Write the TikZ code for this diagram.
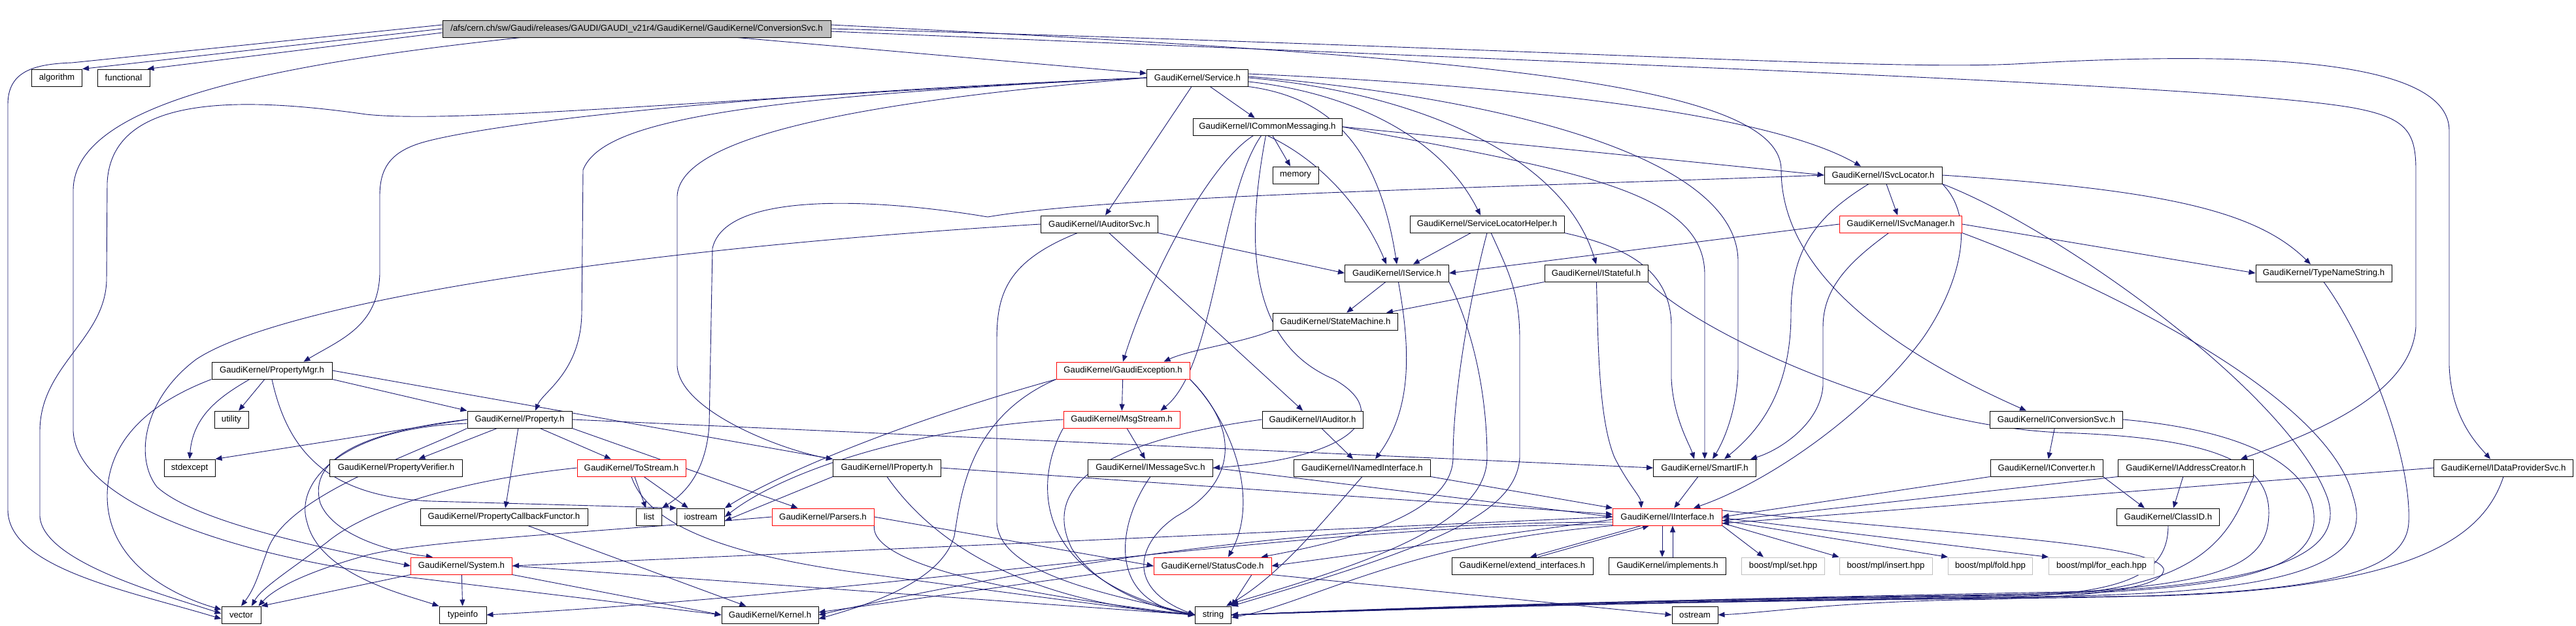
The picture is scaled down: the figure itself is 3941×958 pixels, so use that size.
\documentclass[tikz,border=0pt]{standalone}
\usepackage{fontspec}
\setmainfont{Liberation Sans}
\usetikzlibrary{arrows.meta}
\pgfdeclarelayer{edges}
\pgfsetlayers{edges,main}
\definecolor{depblue}{RGB}{25,25,112}
\definecolor{boxgray}{RGB}{191,191,191}

\begin{document}
\begin{tikzpicture}[
  x=0.5pt, y=-0.5pt,
  hdr/.style={draw=black, fill=white, line width=0.5pt, inner sep=0pt,
              minimum height=13pt, font=\fontsize{6.6}{8}\selectfont},
  hdrred/.style={hdr, draw=red},
  hdrsys/.style={hdr, draw=boxgray},
  hdrroot/.style={hdr, fill=boxgray},
  dep/.style={-{Triangle[length=5pt,width=4pt]}, draw=depblue, line width=0.45pt}
]
\useasboundingbox (0,0) rectangle (3941,958);

% ---------------------------------------------------------------
% Header files, one row per rank
% ---------------------------------------------------------------
\node[hdrroot, minimum width=297pt] (cs) at (974,44) {/afs/cern.ch/sw/Gaudi/releases/GAUDI/GAUDI\_v21r4/GaudiKernel/GaudiKernel/ConversionSvc.h};

\node[hdr, minimum width=38.5pt] (algorithm) at (87,119) {algorithm};
\node[hdr, minimum width=40pt] (functional) at (189,119) {functional};
\node[hdr, minimum width=77.5pt] (service) at (1832,119) {GaudiKernel/Service.h};

\node[hdr, minimum width=114pt] (commsg) at (1939,194) {GaudiKernel/ICommonMessaging.h};

\node[hdr, minimum width=35pt] (memory) at (1982,268) {memory};
\node[hdr, minimum width=90pt] (isvclocator) at (2881,268) {GaudiKernel/ISvcLocator.h};

\node[hdr, minimum width=89.5pt] (iauditorsvc) at (1682,343) {GaudiKernel/IAuditorSvc.h};
\node[hdr, minimum width=118pt] (svclochelper) at (2275,343) {GaudiKernel/ServiceLocatorHelper.h};
\node[hdrred, minimum width=93.5pt] (isvcmanager) at (2908,343) {GaudiKernel/ISvcManager.h};

\node[hdr, minimum width=79.5pt] (iservice) at (2137,418) {GaudiKernel/IService.h};
\node[hdr, minimum width=79pt] (istateful) at (2442,418) {GaudiKernel/IStateful.h};
\node[hdr, minimum width=104pt] (typename) at (3555,418) {GaudiKernel/TypeNameString.h};

\node[hdr, minimum width=95.5pt] (statemachine) at (2043,492) {GaudiKernel/StateMachine.h};

\node[hdr, minimum width=92pt] (propertymgr) at (416,567) {GaudiKernel/PropertyMgr.h};
\node[hdrred, minimum width=102pt] (gaudiexc) at (1718,567) {GaudiKernel/GaudiException.h};

\node[hdr, minimum width=26pt] (utility) at (354,642) {utility};
\node[hdr, minimum width=80pt] (property) at (795,642) {GaudiKernel/Property.h};
\node[hdrred, minimum width=89pt] (msgstream) at (1716,642) {GaudiKernel/MsgStream.h};
\node[hdr, minimum width=77pt] (iauditor) at (2008,642) {GaudiKernel/IAuditor.h};
\node[hdr, minimum width=101.5pt] (iconvsvc) at (3146,642) {GaudiKernel/IConversionSvc.h};

\node[hdr, minimum width=39pt] (stdexcept) at (290,716) {stdexcept};
\node[hdr, minimum width=101.5pt] (propverifier) at (606,716) {GaudiKernel/PropertyVerifier.h};
\node[hdrred, minimum width=83pt] (tostream) at (966,716) {GaudiKernel/ToStream.h};
\node[hdr, minimum width=82.5pt] (iproperty) at (1357,716) {GaudiKernel/IProperty.h};
\node[hdr, minimum width=95.5pt] (imsgsvc) at (1760,716) {GaudiKernel/IMessageSvc.h};
\node[hdr, minimum width=104.5pt] (inamedif) at (2084,716) {GaudiKernel/INamedInterface.h};
\node[hdr, minimum width=78.5pt] (smartif) at (2608,716) {GaudiKernel/SmartIF.h};
\node[hdr, minimum width=86pt] (iconverter) at (3131,716) {GaudiKernel/IConverter.h};
\node[hdr, minimum width=103.5pt] (iaddrcreator) at (3344,716) {GaudiKernel/IAddressCreator.h};
\node[hdr, minimum width=106.5pt] (idataprov) at (3830,716) {GaudiKernel/IDataProviderSvc.h};

\node[hdr, minimum width=128pt] (propcallback) at (771,791) {GaudiKernel/PropertyCallbackFunctor.h};
\node[hdr, minimum width=19.5pt] (list) at (993,791) {list};
\node[hdr, minimum width=36.5pt] (iostream) at (1072,791) {iostream};
\node[hdrred, minimum width=78pt] (parsers) at (1259,791) {GaudiKernel/Parsers.h};
\node[hdrred, minimum width=83.5pt] (iinterface) at (2551,791) {GaudiKernel/IInterface.h};
\node[hdr, minimum width=78.5pt] (classid) at (3317,791) {GaudiKernel/ClassID.h};

\node[hdrred, minimum width=77.5pt] (system) at (706,866) {GaudiKernel/System.h};
\node[hdrred, minimum width=90pt] (statuscode) at (1855,866) {GaudiKernel/StatusCode.h};
\node[hdr, minimum width=108pt] (extendif) at (2329,866) {GaudiKernel/extend\_interfaces.h};
\node[hdr, minimum width=89.5pt] (implements) at (2551,866) {GaudiKernel/implements.h};
\node[hdrsys, minimum width=63.5pt] (mplset) at (2728,866) {boost/mpl/set.hpp};
\node[hdrsys, minimum width=71pt] (mplinsert) at (2885,866) {boost/mpl/insert.hpp};
\node[hdrsys, minimum width=64.5pt] (mplfold) at (3045,866) {boost/mpl/fold.hpp};
\node[hdrsys, minimum width=80.5pt] (mplforeach) at (3215,866) {boost/mpl/for\_each.hpp};

\node[hdr, minimum width=30pt] (vector) at (369,941) {vector};
\node[hdr, minimum width=36pt] (typeinfo) at (708,941) {typeinfo};
\node[hdr, minimum width=74pt] (kernel) at (1178,941) {GaudiKernel/Kernel.h};
\node[hdr, minimum width=27.5pt] (string) at (1856,941) {string};
\node[hdr, minimum width=35pt] (ostream) at (2593,941) {ostream};

\begin{pgfonlayer}{edges}
% ---------------------------------------------------------------
% ConversionSvc.h
% ---------------------------------------------------------------
\draw[dep] (cs.west) -- (algorithm.north east);
\draw[dep] ([yshift=-3pt]cs.west) -- ([xshift=-2pt]functional.north east);
\draw[dep] ([yshift=3pt]cs.west) -- (110,96) .. controls (50,98) and (12,110) .. (12,160) -- (12,780)
           .. controls (12,870) and (200,905) .. ([yshift=-3pt]vector.west);
\draw[dep] ([xshift=60pt]cs.south west) .. controls (400,100) and (115,160) .. (112,290) -- (112,660)
           .. controls (118,780) and (400,860) .. (640,885) -- (kernel.west);
\draw[dep] (cs) -- (service);
\draw[dep] ([yshift=3pt]cs.east) .. controls (2200,85) and (2725,120) .. (2725,260)
           .. controls (2725,420) and (2900,540) .. ([xshift=-23pt]iconvsvc.north);
\draw[dep] (cs.east) .. controls (2400,75) and (2900,110) .. (3100,97)
           .. controls (3500,75) and (3747,100) .. (3747,200) -- (3747,560)
           .. controls (3750,640) and (3790,680) .. ([xshift=-10pt]idataprov.north);
\draw[dep] ([yshift=-2pt]cs.east) .. controls (2500,100) and (3400,130) .. (3600,165)
           .. controls (3680,180) and (3696,200) .. (3696,260) -- (3696,500)
           .. controls (3690,600) and (3550,660) .. ([xshift=42pt]iaddrcreator.north);

% ---------------------------------------------------------------
% Service.h
% ---------------------------------------------------------------
\draw[dep] (service) -- (commsg);
\draw[dep] (service) -- (iauditorsvc);
\draw[dep] ([yshift=-3pt]service.east) .. controls (2050,140) and (2200,200) .. ([xshift=-5pt]svclochelper.north);
\draw[dep] (service.south east) .. controls (2040,150) and (2110,230) .. (iservice.north);
\draw[dep] (service.east) .. controls (2150,140) and (2390,230) .. (istateful.north);
\draw[dep] ([yshift=3pt]service.east) .. controls (2300,130) and (2700,170) .. ([xshift=-17pt]isvclocator.north);
\draw[dep] ([yshift=1pt]service.east) .. controls (2300,150) and (2659,240) .. (2659,400) -- (2659,560)
           .. controls (2659,620) and (2640,670) .. ([xshift=6pt]smartif.north);
\draw[dep] (service.west) .. controls (1000,150) and (700,200) .. (640,220)
           .. controls (595,235) and (581,260) .. (581,300) -- (581,420)
           .. controls (578,500) and (520,520) .. ([xshift=-22pt]propertymgr.north east);
\draw[dep] (service.west) .. controls (1100,150) and (920,190) .. (892,260) -- (890,480)
           .. controls (888,570) and (830,600) .. ([xshift=12pt]property.north);
\draw[dep] (service.west) .. controls (1250,160) and (1040,220) .. (1036,300) -- (1036,560)
           .. controls (1040,630) and (1200,690) .. (iproperty.north west);
\draw[dep] (service.west) .. controls (1100,150) and (700,190) .. (560,175)
           .. controls (350,145) and (170,150) .. (164,280) -- (163,430)
           .. controls (160,520) and (61,560) .. (61,660) -- (61,790)
           .. controls (65,860) and (250,910) .. ([yshift=1pt]vector.west);

% ---------------------------------------------------------------
% ICommonMessaging.h
% ---------------------------------------------------------------
\draw[dep] (commsg) -- (memory);
\draw[dep] (commsg.south) .. controls (2030,250) and (2090,330) .. ([xshift=-8pt]iservice.north);
\draw[dep] (commsg.east) -- (isvclocator.west);
\draw[dep] (commsg) .. controls (1850,250) and (1760,420) .. (gaudiexc.north);
\draw[dep] (commsg) .. controls (1865,300) and (1860,560) .. ([xshift=-15pt]msgstream.north east);
\draw[dep] (commsg) .. controls (1910,350) and (1900,520) .. (2040,580)
           .. controls (2130,630) and (2080,700) .. (imsgsvc.east);
\draw[dep] (commsg.east) .. controls (2400,260) and (2608,290) .. (2608,420) -- (smartif.north);

% ---------------------------------------------------------------
% IAuditorSvc.h, ServiceLocatorHelper.h
% ---------------------------------------------------------------
\draw[dep] (iauditorsvc.south east) -- (iservice.west);
\draw[dep] (iauditorsvc) -- (iauditor);
\draw[dep] (iauditorsvc) .. controls (1540,400) and (1525,450) .. (1525,520) -- (1525,800)
           .. controls (1530,880) and (1700,910) .. (string.west);
\draw[dep] (iauditorsvc.west) .. controls (900,385) and (420,470) .. (300,550)
           .. controls (220,610) and (205,700) .. (240,745)
           .. controls (300,800) and (500,840) .. (system.west);

\draw[dep] (svclochelper) -- (iservice);
\draw[dep] (svclochelper.south) .. controls (2250,450) and (2223,600) .. (2223,700)
           .. controls (2223,790) and (2050,830) .. ([xshift=-8pt]statuscode.north east);
\draw[dep] (svclochelper.south east) .. controls (2500,380) and (2557,420) .. (2557,500) -- (2557,580)
           .. controls (2560,640) and (2585,680) .. ([xshift=-8pt]smartif.north);
\draw[dep] (svclochelper) .. controls (2310,420) and (2325,450) .. (2325,520) -- (2325,700)
           .. controls (2320,790) and (2180,840) .. (string.north east);

% ---------------------------------------------------------------
% IService.h, IStateful.h, StateMachine.h
% ---------------------------------------------------------------
\draw[dep] (iservice) -- (statemachine);
\draw[dep] (iservice) .. controls (2155,520) and (2165,620) .. ([xshift=10pt]inamedif.north);
\draw[dep] (iservice.south east) .. controls (2260,520) and (2275,620) .. (2275,700)
           .. controls (2275,800) and (2100,860) .. ([yshift=2pt]string.north east);

\draw[dep] (istateful.south west) -- ([xshift=-9pt]statemachine.north east);
\draw[dep] (istateful) .. controls (2445,520) and (2445,640) .. (2470,700)
           .. controls (2490,740) and (2510,760) .. ([xshift=-20pt]iinterface.north);
\draw[dep] (istateful.south east) .. controls (2600,510) and (2900,650) .. (3150,662)
           .. controls (3420,670) and (3480,720) .. (3470,800)
           .. controls (3460,880) and (3350,905) .. (3000,912)
           .. controls (2600,918) and (2300,925) .. (string.east);

\draw[dep] (statemachine.south west) .. controls (1900,525) and (1820,535) .. ([xshift=-20pt]gaudiexc.north east);

% ---------------------------------------------------------------
% ISvcLocator.h, ISvcManager.h, TypeNameString.h
% ---------------------------------------------------------------
\draw[dep] (isvclocator) -- (isvcmanager);
\draw[dep] (isvclocator.east) .. controls (3300,290) and (3450,320) .. ([xshift=-10pt]typename.north);
\draw[dep] (isvclocator) .. controls (2780,330) and (2740,380) .. (2740,480)
           .. controls (2740,600) and (2690,660) .. ([xshift=15pt]smartif.north);
\draw[dep] (isvclocator.south east) .. controls (3030,340) and (2990,450) .. (2940,520)
           .. controls (2850,640) and (2700,740) .. ([xshift=20pt]iinterface.north);
\draw[dep] (isvclocator.west) .. controls (2200,290) and (1700,300) .. (1511,332)
           .. controls (1350,305) and (1110,290) .. (1090,380) -- (1085,650)
           .. controls (1080,730) and (1040,760) .. (list.north east);
\draw[dep] (isvclocator.south east) .. controls (3150,350) and (3500,600) .. (3560,760)
           .. controls (3600,870) and (3400,905) .. (3050,910)
           .. controls (2600,917) and (2300,924) .. (string.east);

\draw[dep] (isvcmanager.west) -- (iservice.east);
\draw[dep] (isvcmanager.east) -- (typename.west);
\draw[dep] (isvcmanager) .. controls (2830,400) and (2789,440) .. (2789,500) -- (2789,590)
           .. controls (2785,650) and (2720,690) .. ([xshift=35pt]smartif.north);
\draw[dep] (isvcmanager.south east) .. controls (3200,430) and (3560,600) .. (3600,760)
           .. controls (3640,880) and (3450,910) .. (3100,913)
           .. controls (2600,919) and (2300,926) .. (string.east);

\draw[dep] (typename.south) .. controls (3620,520) and (3690,700) .. (3685,800)
           .. controls (3680,890) and (3500,910) .. (3150,915)
           .. controls (2600,920) and (2300,927) .. (string.east);

% ---------------------------------------------------------------
% Conversion / address / data provider interfaces
% ---------------------------------------------------------------
\draw[dep] (iconvsvc) -- (iconverter);
\draw[dep] (iconvsvc.east) .. controls (3450,660) and (3545,720) .. (3540,800)
           .. controls (3530,880) and (3400,905) .. (3050,912)
           .. controls (2600,918) and (2300,925) .. (string.east);
\draw[dep] (iconverter.south west) -- (iinterface.east);
\draw[dep] (iconverter.south east) -- ([xshift=-18pt]classid.north);
\draw[dep] (iaddrcreator) -- ([xshift=4pt]classid.north);
\draw[dep] (iaddrcreator.south west) -- ([yshift=-3pt]iinterface.east);
\draw[dep] (iaddrcreator.south east) .. controls (3420,790) and (3400,880) .. (3200,905)
           .. controls (2600,917) and (2300,925) .. (string.east);
\draw[dep] (idataprov.west) -- ([yshift=-5pt]iinterface.east);
\draw[dep] (idataprov.south) .. controls (3800,820) and (3700,900) .. (3300,912)
           .. controls (2600,920) and (2300,927) .. (string.east);
\draw[dep] (classid.south) .. controls (3317,880) and (3250,910) .. (3050,914)
           .. controls (2600,920) and (2300,928) .. (string.east);

% ---------------------------------------------------------------
% PropertyMgr.h, Property.h and friends
% ---------------------------------------------------------------
\draw[dep] (propertymgr) -- (utility);
\draw[dep] ([xshift=-17pt]propertymgr.south) .. controls (330,610) and (295,640) .. (stdexcept.north);
\draw[dep] (propertymgr.south west) .. controls (220,620) and (164,680) .. (164,760)
           .. controls (165,860) and (260,910) .. ([yshift=4pt]vector.west);
\draw[dep] (propertymgr.south east) -- (property.north west);
\draw[dep] (propertymgr.east) -- (iproperty.north west);
\draw[dep] (propertymgr.south) .. controls (440,690) and (500,760) .. (660,767) -- (iostream.north west);

\draw[dep] (property) -- (propverifier);
\draw[dep] (property) -- (propcallback);
\draw[dep] (property) -- (tostream);
\draw[dep] (property.south east) -- ([xshift=20pt]parsers.north west);
\draw[dep] (property.west) -- (stdexcept.north east);
\draw[dep] (property.east) -- (smartif.west);
\draw[dep] (property.west) .. controls (560,660) and (470,700) .. (490,770)
           .. controls (510,820) and (600,845) .. ([xshift=-22pt]system.north);
\draw[dep] ([yshift=-3pt]property.west) .. controls (520,655) and (450,740) .. (470,800)
           .. controls (490,880) and (620,910) .. (typeinfo.north west);
\draw[dep] (property.south west) .. controls (620,700) and (440,760) .. (410,840)
           .. controls (395,880) and (390,900) .. (vector.north);

\draw[dep] (tostream) -- (list);
\draw[dep] (tostream) -- (iostream);
\draw[dep] (tostream.west) .. controls (700,735) and (560,780) .. (500,830)
           .. controls (440,875) and (400,900) .. ([xshift=8pt]vector.north);
\draw[dep] (tostream.south) .. controls (990,800) and (1100,850) .. (1340,880)
           .. controls (1600,915) and (1750,935) .. (string.west);

\draw[dep] (parsers.east) -- (statuscode.west);
\draw[dep] (parsers.south east) .. controls (1330,870) and (1600,915) .. (string.west);
\draw[dep] (parsers.west) .. controls (900,815) and (640,828) .. (560,850)
           .. controls (470,875) and (420,900) .. ([xshift=-2pt]vector.north east);

\draw[dep] (propcallback) -- (kernel);

\draw[dep] (system) -- (typeinfo);
\draw[dep] (system.south east) -- (kernel.west);
\draw[dep] (system.east) -- (string.west);
\draw[dep] (system.south west) -- (vector.north east);

% ---------------------------------------------------------------
% Messaging and exceptions
% ---------------------------------------------------------------
\draw[dep] (gaudiexc) -- (msgstream);
\draw[dep] (gaudiexc.south east) .. controls (1880,640) and (1930,760) .. ([xshift=12pt]statuscode.north);
\draw[dep] (gaudiexc.south east) .. controls (1900,660) and (1890,740) .. (1800,790)
           .. controls (1740,830) and (1720,900) .. (string.west);
\draw[dep] (gaudiexc.south west) .. controls (1400,640) and (1200,720) .. (iostream.north east);
\draw[dep] (gaudiexc.south west) .. controls (1480,640) and (1470,760) .. (1460,820)
           .. controls (1440,890) and (1330,925) .. ([yshift=-3pt]kernel.east);

\draw[dep] (msgstream) -- (imsgsvc);
\draw[dep] (msgstream.south west) .. controls (1590,720) and (1560,880) .. (string.west);
\draw[dep] (msgstream.west) .. controls (1400,655) and (1200,720) .. (iostream.east);

\draw[dep] (imsgsvc.east) -- (iinterface.west);
\draw[dep] (imsgsvc.south) .. controls (1710,800) and (1690,920) .. (string.west);

\draw[dep] (iproperty.east) -- ([yshift=2pt]iinterface.west);
\draw[dep] (iproperty.south) .. controls (1420,820) and (1550,920) .. (string.west);
\draw[dep] (iproperty.south west) -- ([yshift=-3pt]iostream.east);

\draw[dep] (iauditor) -- (inamedif);
\draw[dep] (iauditor.west) .. controls (1650,680) and (1600,760) .. (1640,840)
           .. controls (1680,900) and (1760,930) .. (string.west);

\draw[dep] (inamedif.south east) -- (iinterface.north west);
\draw[dep] (inamedif.south) .. controls (2030,790) and (1960,880) .. ([xshift=-4pt]string.north east);

\draw[dep] (smartif) -- (iinterface);

% ---------------------------------------------------------------
% IInterface.h and below
% ---------------------------------------------------------------
\draw[dep] ([xshift=-20pt]iinterface.south) -- ([xshift=6pt]extendif.north);
\draw[dep] ([xshift=12pt]extendif.north) -- ([xshift=-14pt]iinterface.south);
\draw[dep] ([xshift=-4pt]iinterface.south) -- ([xshift=-4pt]implements.north);
\draw[dep] ([xshift=4pt]implements.north) -- ([xshift=4pt]iinterface.south);
\draw[dep] (iinterface.south east) -- ([xshift=-15pt]mplset.north);
\draw[dep] ([yshift=2pt]iinterface.south east) -- (mplinsert.north west);
\draw[dep] ([yshift=4pt]iinterface.south east) -- (mplfold.north west);
\draw[dep] ([yshift=6pt]iinterface.south east) -- (mplforeach.north west);
\draw[dep] ([yshift=5pt]iinterface.east) .. controls (3000,820) and (3290,830) .. (3310,870)
           .. controls (3315,900) and (3200,915) .. (3000,918)
           .. controls (2800,922) and (2700,938) .. (ostream.east);
\draw[dep] (iinterface.west) -- (system.east);
\draw[dep] ([yshift=-2pt]iinterface.west) -- (statuscode.east);
\draw[dep] ([yshift=-4pt]iinterface.west) .. controls (2100,800) and (1700,840) .. (kernel.east);
\draw[dep] ([yshift=-6pt]iinterface.west) .. controls (2000,800) and (1400,905) .. (typeinfo.east);
\draw[dep] (iinterface.south west) .. controls (2150,830) and (2000,925) .. ([yshift=-2pt]string.east);

\draw[dep] (statuscode.west) -- ([yshift=2pt]kernel.east);
\draw[dep] (statuscode.south east) -- (ostream.west);
\draw[dep] ([xshift=30pt]statuscode.south) -- (string.north east);
\end{pgfonlayer}
\end{tikzpicture}
\end{document}
